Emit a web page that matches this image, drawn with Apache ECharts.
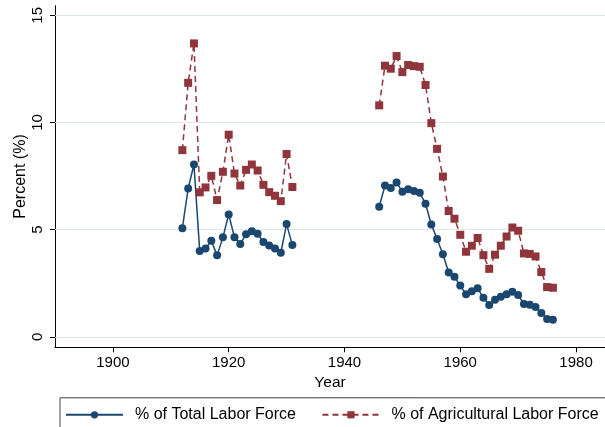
<!DOCTYPE html>
<html>
<head>
<meta charset="utf-8">
<script src="https://cdn.jsdelivr.net/npm/echarts@6/dist/echarts.min.js"></script>
<style>html,body{margin:0;padding:0;background:#fff}#c{width:605px;height:427px}</style>
</head>
<body>
<div id="c"></div>
<script>
// Data
const years1 = [1912,1913,1914,1915,1916,1917,1918,1919,1920,1921,1922,1923,1924,1925,1926,1927,1928,1929,1930,1931];
const total1 = [5.07,6.92,8.04,4.00,4.12,4.48,3.80,4.64,5.71,4.64,4.33,4.79,4.93,4.81,4.42,4.26,4.12,3.92,5.26,4.28];
const ag1 = [8.71,11.85,13.69,6.74,6.97,7.51,6.38,7.70,9.43,7.62,7.06,7.79,8.04,7.76,7.09,6.75,6.58,6.33,8.53,6.99];
const years2 = [1946,1947,1948,1949,1950,1951,1952,1953,1954,1955,1956,1957,1958,1959,1960,1961,1962,1963,1964,1965,1966,1967,1968,1969,1970,1971,1972,1973,1974,1975,1976];
const total2 = [6.07,7.06,6.94,7.20,6.77,6.89,6.80,6.72,6.21,5.24,4.56,3.85,3.00,2.80,2.39,1.98,2.13,2.26,1.82,1.48,1.73,1.87,1.99,2.10,1.95,1.53,1.49,1.39,1.11,0.83,0.79];
const ag2 = [10.80,12.65,12.51,13.10,12.35,12.68,12.63,12.60,11.75,9.97,8.77,7.48,5.87,5.51,4.76,3.97,4.25,4.61,3.81,3.17,3.83,4.25,4.68,5.10,4.95,3.89,3.87,3.75,3.02,2.32,2.29];
const gapYear = 1939;
const xTicks = [1900,1920,1940,1960,1980];
const yTicks = [0,5,10,15];
const seriesNames = ['% of Total Labor Force','% of Agricultural Labor Force'];

const FONT = 'Liberation Sans, Arial, sans-serif';
const BLUE = '#1a476f';
const RED = '#90353b';
const GRID = '#dfe9ec';

function build(ys1, v1, ys2, v2) {
  const out = ys1.map((y,i)=>[y, v1[i]]);
  out.push([gapYear, '-']);
  return out.concat(ys2.map((y,i)=>[y, v2[i]]));
}

const chart = echarts.init(document.getElementById('c'), null, {renderer:'canvas'});
chart.setOption({
  animation: false,
  backgroundColor: '#fff',
  textStyle: {fontFamily: FONT},
  grid: {left: 55, right: 0, top: 5.7, bottom: 79.7, containLabel: false, outerBoundsMode: 'none'},
  xAxis: {
    type: 'value', min: 1890, max: 1985,
    name: 'Year', nameLocation: 'middle', nameGap: 27,
    nameTextStyle: {fontSize: 15.5, color: '#000', fontFamily: FONT},
    axisLine: {show: true, onZero: false, lineStyle: {color: '#000', width: 1}},
    axisTick: {show: true, length: 5, customValues: xTicks, lineStyle: {color: '#000', width: 1}},
    axisLabel: {customValues: xTicks, formatter: v => String(v), fontSize: 15, color: '#000', margin: 8, fontFamily: FONT},
    splitLine: {show: false}
  },
  yAxis: {
    type: 'value', min: -0.49, max: 15.45,
    name: 'Percent (%)', nameLocation: 'middle', nameGap: 26, nameRotate: 90, nameMoveOverlap: false,
    nameTextStyle: {fontSize: 16, color: '#000', fontFamily: FONT},
    axisLine: {show: true, onZero: false, lineStyle: {color: '#000', width: 1}},
    axisTick: {show: true, length: 5, customValues: yTicks, lineStyle: {color: '#000', width: 1}},
    axisLabel: {customValues: yTicks, formatter: v => String(v), rotate: 90, fontSize: 15, color: '#000', margin: 10, fontFamily: FONT},
    splitLine: {show: false}
  },
  legend: {
    data: seriesNames,
    left: 60, top: 397.8, width: 700, orient: 'horizontal',
    padding: [9, 12, 9, 5],
    itemWidth: 57, itemHeight: 9, itemGap: 25.5,
    borderColor: '#404040', borderWidth: 1, borderRadius: 0,
    textStyle: {fontSize: 16, color: '#000', fontFamily: FONT, padding: [0,0,0,7]}
  },
  series: [
    {
      name: seriesNames[0], type: 'line', z: 3,
      data: build(years1, total1, years2, total2),
      symbol: 'circle', symbolSize: 8, connectNulls: false,
      itemStyle: {color: BLUE, borderWidth: 0},
      lineStyle: {color: BLUE, width: 1.5},
      markLine: {
        z: 1, silent: true, symbol: ['none','none'], label: {show: false},
        lineStyle: {color: GRID, width: 1, type: 'solid'},
        emphasis: {disabled: true},
        data: yTicks.map(v => ({yAxis: v}))
      }
    },
    {
      name: seriesNames[1], type: 'line', z: 3,
      data: build(years1, ag1, years2, ag2),
      symbol: 'rect', symbolSize: 8, connectNulls: false,
      itemStyle: {color: RED, borderWidth: 0},
      lineStyle: {color: RED, width: 1.5, type: [6, 4]}
    }
  ]
});
</script>
</body>
</html>
